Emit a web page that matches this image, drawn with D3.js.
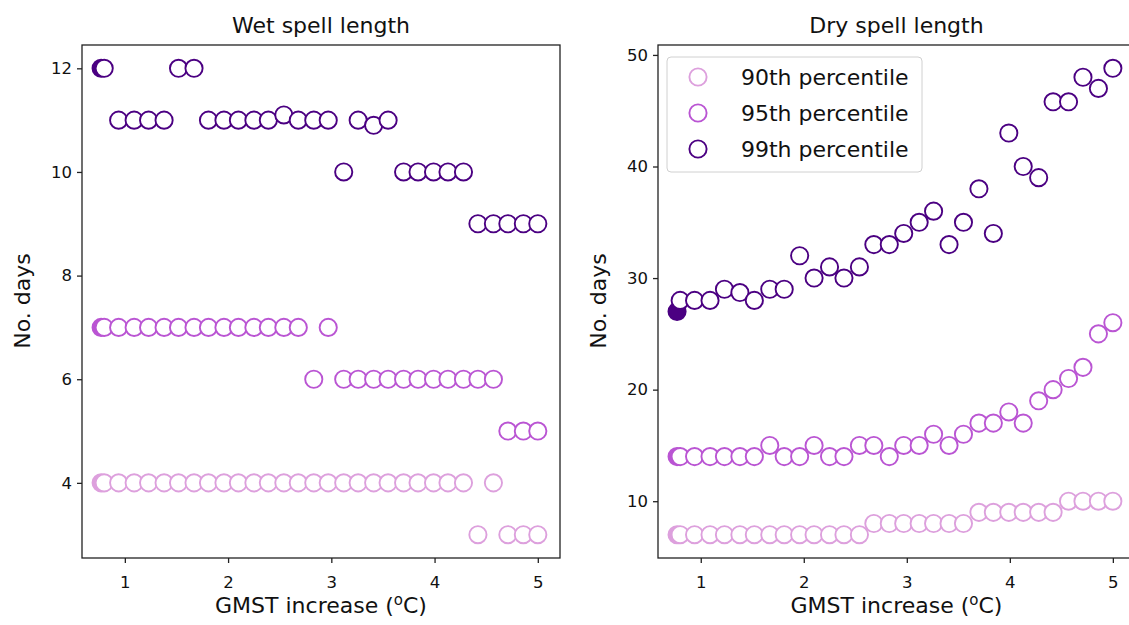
<!DOCTYPE html>
<html>
<head>
<meta charset="utf-8">
<script src="https://cdn.jsdelivr.net/npm/d3@7"></script>
<style>
  body { margin: 0; background: #fff; }
  text { font-family: "DejaVu Sans", sans-serif; fill: #111; }
</style>
</head>
<body>
<svg id="chart"></svg>
<script>
// GMST increase for each ensemble step (deg C)
const gmst = [0.80, 0.94, 1.09, 1.23, 1.38, 1.52, 1.67, 1.81, 1.96, 2.10, 2.25, 2.39, 2.54, 2.68, 2.83,
              2.97, 3.12, 3.26, 3.41, 3.55, 3.70, 3.84, 3.99, 4.13, 4.28, 4.42, 4.57, 4.71, 4.86, 5.00];
// baseline point (filled marker)
const baseX = 0.77;

const wet90 = [4, 4, 4, 4, 4, 4, 4, 4, 4, 4, 4, 4, 4, 4, 4, 4, 4, 4, 4, 4, 4, 4, 4, 4, 4, 3, 4, 3, 3, 3];
const wet95 = [7, 7, 7, 7, 7, 7, 7, 7, 7, 7, 7, 7, 7, 7, 6, 7, 6, 6, 6, 6, 6, 6, 6, 6, 6, 6, 6, 5, 5, 5];
const wet99 = [12, 11, 11, 11, 11, 12, 12, 11, 11, 11, 11, 11, 11.1, 11, 11, 11, 10, 11, 10.9, 11,
               10, 10, 10, 10, 10, 9, 9, 9, 9, 9];
const wetBase = [4, 7, 12];

const dry90 = [7, 7, 7, 7, 7, 7, 7, 7, 7, 7, 7, 7, 7, 8, 8, 8, 8, 8, 8, 8, 9, 9, 9, 9, 9, 9, 10, 10, 10, 10];
const dry95 = [14, 14, 14, 14, 14, 14, 15, 14, 14, 15, 14, 14, 15, 15, 14, 15, 15, 16, 15, 16,
               17, 17, 18, 17, 19, 20, 21, 22, 25, 26];
const dry99 = [28, 28, 28, 29, 28.7, 28, 29, 29, 32, 30, 31, 30, 31, 33, 33, 34, 35, 36, 33, 35,
               38, 34, 43, 40, 39, 45.8, 45.8, 48, 47, 48.8];
const dryBase = [7, 14, 27];

const seriesNames = ["90th percentile", "95th percentile", "99th percentile"];
const colors = ["#dda0dd", "#ba55d3", "#4b0082"];
const xTicks = [1, 2, 3, 4, 5];
const wetTicks = [4, 6, 8, 10, 12];
const dryTicks = [10, 20, 30, 40, 50];

const W = 1129, H = 625;
const R = 8.6;
const svg = d3.select("#chart").attr("width", W).attr("height", H);
svg.append("rect").attr("width", W).attr("height", H).attr("fill", "#fff");

function drawPanel(p) {
  const x = d3.scaleLinear().domain([0.585, 5.215]).range([p.left, p.right]);
  const y = d3.scaleLinear().domain(p.yDomain).range([558, 45]);
  const g = svg.append("g");

  // baseline filled markers first
  p.base.forEach((v, i) => {
    g.append("circle")
      .attr("cx", x(baseX)).attr("cy", y(v)).attr("r", R)
      .attr("fill", colors[i]).attr("stroke", colors[i]).attr("stroke-width", 1.9);
  });

  p.series.forEach((vals, i) => {
    g.selectAll(null).data(vals).enter().append("circle")
      .attr("cx", (d, j) => x(gmst[j]))
      .attr("cy", d => y(d))
      .attr("r", R)
      .attr("fill", "#fff")
      .attr("stroke", colors[i])
      .attr("stroke-width", 1.9);
  });

  // frame
  svg.append("rect")
    .attr("x", p.left).attr("y", 45)
    .attr("width", p.right - p.left).attr("height", 513)
    .attr("fill", "none").attr("stroke", "#222").attr("stroke-width", 1.3);

  const xAxis = svg.append("g").attr("transform", "translate(0,558)")
    .call(d3.axisBottom(x).tickValues(xTicks).tickSize(5).tickPadding(13).tickFormat(d3.format("d")));
  const yAxis = svg.append("g").attr("transform", `translate(${p.left},0)`)
    .call(d3.axisLeft(y).tickValues(p.yTicks).tickSize(5).tickPadding(5).tickFormat(d3.format("d")));
  [xAxis, yAxis].forEach(a => {
    a.select(".domain").remove();
    a.selectAll("line").attr("stroke", "#222").attr("stroke-width", 1.3);
    a.selectAll("text").attr("font-size", 16.5).attr("fill", "#111")
      .attr("font-family", "DejaVu Sans, sans-serif");
  });

  const cx = (p.left + p.right) / 2;
  svg.append("text").attr("x", cx).attr("y", 33)
    .attr("text-anchor", "middle").attr("font-size", 22).text(p.title);

  const xl = svg.append("text").attr("x", cx).attr("y", 613)
    .attr("text-anchor", "middle").attr("font-size", 22);
  xl.append("tspan").text("GMST increase (");
  xl.append("tspan").attr("font-size", 15).attr("dy", -8).text("o");
  xl.append("tspan").attr("dy", 8).text("C)");

  svg.append("text")
    .attr("transform", `translate(${p.ylabX},301) rotate(-90)`)
    .attr("text-anchor", "middle").attr("dy", "0.35em")
    .attr("font-size", 22).text("No. days");
}

drawPanel({
  title: "Wet spell length", left: 82, right: 560, yDomain: [2.55, 12.45],
  yTicks: wetTicks, series: [wet90, wet95, wet99], base: wetBase, ylabX: 22
});
drawPanel({
  title: "Dry spell length", left: 658, right: 1135, yDomain: [4.91, 50.89],
  yTicks: dryTicks, series: [dry90, dry95, dry99], base: dryBase, ylabX: 598
});

// legend
const leg = svg.append("g");
leg.append("rect").attr("x", 667).attr("y", 57).attr("width", 255).attr("height", 115)
  .attr("rx", 4).attr("fill", "#fff").attr("fill-opacity", 0.8)
  .attr("stroke", "#d0d0d0").attr("stroke-width", 1);
seriesNames.forEach((name, i) => {
  const ly = 77 + i * 36;
  leg.append("circle").attr("cx", 698).attr("cy", ly).attr("r", R)
    .attr("fill", "#fff").attr("stroke", colors[i]).attr("stroke-width", 1.9);
  leg.append("text").attr("x", 741).attr("y", ly).attr("dy", "0.35em")
    .attr("font-size", 22).text(name);
});
</script>
</body>
</html>
